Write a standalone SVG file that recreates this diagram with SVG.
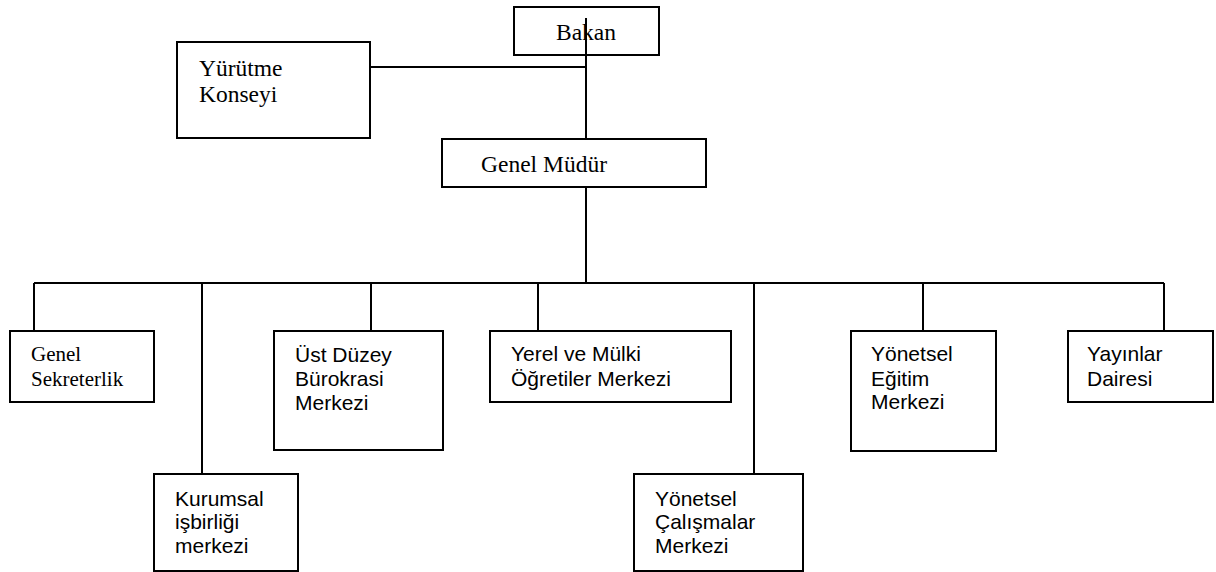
<svg xmlns="http://www.w3.org/2000/svg" width="1216" height="572" viewBox="0 0 1216 572">
<style>
.box{fill:#fff;stroke:#000;stroke-width:2}
.ln{fill:none;stroke:#000;stroke-width:2}
.serif{font-family:"Liberation Serif","Times New Roman",serif;font-size:23.5px;fill:#000}
.serif2{font-family:"Liberation Serif","Times New Roman",serif;font-size:21px;fill:#000}
.sans{font-family:"Liberation Sans",Arial,sans-serif;font-size:21px;fill:#000}
</style>
<rect width="1216" height="572" fill="#fff"/>
<g id="n-bakan"><rect class="box" x="514" y="7" width="145" height="48"/><text class="serif" x="556" y="40">Bakan</text></g>
<g id="n-yurutme"><rect class="box" x="177" y="42" width="193" height="96"/><text class="serif" x="199" y="76">Yürütme</text><text class="serif" x="199" y="102">Konseyi</text></g>
<g id="n-genelmudur"><rect class="box" x="442" y="139" width="264" height="48"/><text class="serif" x="481" y="172">Genel Müdür</text></g>
<g id="n-sekreterlik"><rect class="box" x="10" y="331" width="144" height="71"/><text class="serif2" x="31" y="361">Genel</text><text class="serif2" x="31" y="386">Sekreterlik</text></g>
<g id="n-kurumsal"><rect class="box" x="154" y="474" width="144" height="97"/><text class="sans" x="175" y="506">Kurumsal</text><text class="sans" x="175" y="529">işbirliği</text><text class="sans" x="175" y="553">merkezi</text></g>
<g id="n-ustduzey"><rect class="box" x="274" y="331" width="169" height="119"/><text class="sans" x="295" y="362">Üst Düzey</text><text class="sans" x="295" y="386">Bürokrasi</text><text class="sans" x="295" y="410">Merkezi</text></g>
<g id="n-yerel"><rect class="box" x="490" y="331" width="241" height="71"/><text class="sans" x="511" y="361">Yerel ve Mülki</text><text class="sans" x="511" y="386">Öğretiler Merkezi</text></g>
<g id="n-calismalar"><rect class="box" x="634" y="474" width="169" height="97"/><text class="sans" x="655" y="506">Yönetsel</text><text class="sans" x="655" y="529">Çalışmalar</text><text class="sans" x="655" y="553">Merkezi</text></g>
<g id="n-egitim"><rect class="box" x="851" y="331" width="145" height="120"/><text class="sans" x="871" y="361">Yönetsel</text><text class="sans" x="871" y="386">Eğitim</text><text class="sans" x="871" y="409">Merkezi</text></g>
<g id="n-yayinlar"><rect class="box" x="1068" y="331" width="145" height="71"/><text class="sans" x="1087" y="361">Yayınlar</text><text class="sans" x="1087" y="386">Dairesi</text></g>
<g id="connectors">
<path class="ln" d="M586 18V139M370 67H586M586 187V283M34 283H1164"/>
<path class="ln" d="M34 283V331M202 283V474M371 283V331M538 283V331M754 283V474M923 283V331M1164 283V331"/>
</g>
</svg>
